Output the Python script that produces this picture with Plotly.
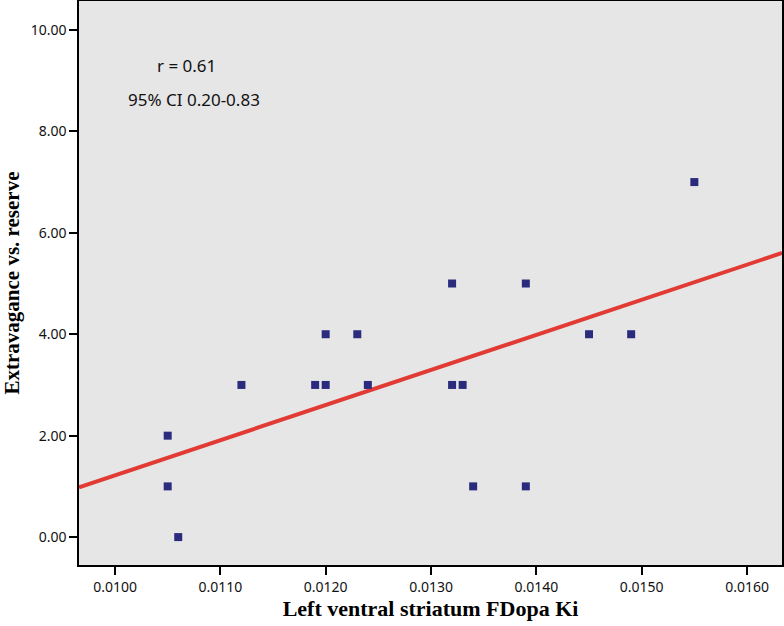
import numpy as np
import plotly.graph_objects as go

ki = [0.0105, 0.0106, 0.0105, 0.0112, 0.0119, 0.0120, 0.0120, 0.0123, 0.0124,
      0.0132, 0.0132, 0.0133, 0.0134, 0.0139, 0.0139, 0.0145, 0.0149, 0.0155]
extrav = [1, 0, 2, 3, 3, 3, 4, 4, 3, 5, 3, 3, 1, 5, 1, 4, 4, 7]

x_range = [0.009658, 0.016332]
y_range = [-0.55, 10.57]
x_ticks = [0.0100, 0.0110, 0.0120, 0.0130, 0.0140, 0.0150, 0.0160]
x_tick_text = ["0.0100", "0.0110", "0.0120", "0.0130", "0.0140", "0.0150", "0.0160"]
y_ticks = [0, 2, 4, 6, 8, 10]
y_tick_text = ["0.00", "2.00", "4.00", "6.00", "8.00", "10.00"]

slope, intercept = np.polyfit(ki, extrav, 1)
fit_x = np.array(x_range)
fit_y = slope * fit_x + intercept

fig = go.Figure()
fig.add_trace(go.Scatter(x=fit_x, y=fit_y, mode="lines",
                         line=dict(color="#E23B35", width=4), hoverinfo="skip"))
fig.add_trace(go.Scatter(x=ki, y=extrav, mode="markers",
                         marker=dict(symbol="square", size=8, color="#2B2B7D",
                                     line=dict(width=0))))

fig.add_annotation(x=0.010674, y=9.29, text="r = 0.61", showarrow=False,
                   font=dict(family="Noto Sans", size=17, color="#111"))
fig.add_annotation(x=0.01075, y=8.62, text="95% CI 0.20-0.83", showarrow=False,
                   font=dict(family="Noto Sans", size=17, color="#111"))

axis_common = dict(showgrid=False, zeroline=False, showline=True, linecolor="black",
                   linewidth=1.5, mirror=True, ticks="outside", ticklen=8,
                   tickwidth=2, tickcolor="black", automargin=False,
                   tickfont=dict(family="Noto Sans", size=14, color="#111"))

fig.update_xaxes(range=x_range, tickvals=x_ticks, ticktext=x_tick_text,
                 title=dict(text="<b>Left ventral striatum FDopa Ki</b>",
                            font=dict(family="Liberation Serif", size=22, color="black"),
                            standoff=5),
                 **axis_common)
fig.update_yaxes(range=y_range, tickvals=y_ticks, ticktext=y_tick_text,
                 title=dict(text="<b>Extravagance vs. reserve</b>",
                            font=dict(family="Liberation Serif", size=21, color="black"),
                            standoff=6),
                 **axis_common)

fig.update_layout(width=784, height=626, showlegend=False,
                  plot_bgcolor="#E6E6E6", paper_bgcolor="white",
                  margin=dict(l=79, r=2, t=1, b=61))

fig.write_html("out.html", config={"displayModeBar": False},
               post_script="document.body.style.margin='0px';")
